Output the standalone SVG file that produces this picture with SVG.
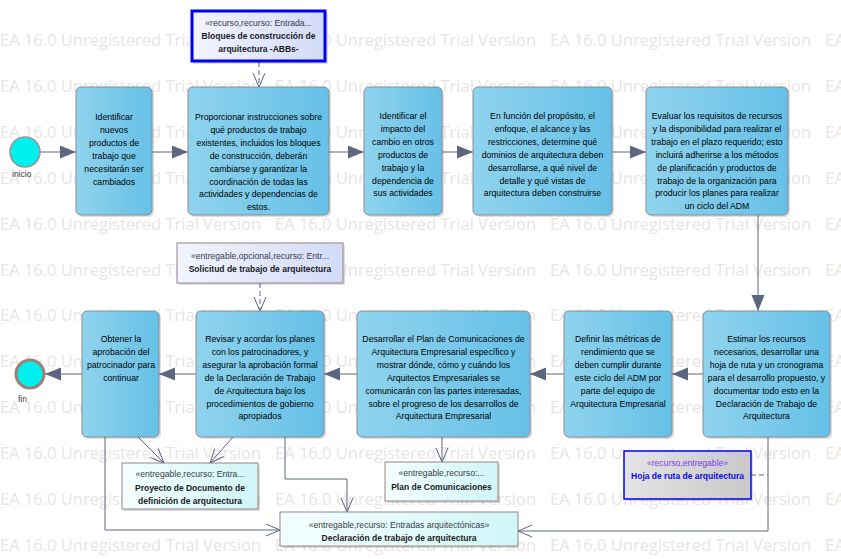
<svg xmlns="http://www.w3.org/2000/svg" width="841" height="559" viewBox="0 0 841 559">
<defs>
<style>
.wm{font-family:"Open Sans","Liberation Sans",sans-serif;font-size:17px;fill:#e8e5e5}
.node rect.b{fill:url(#gNode);stroke:#8a8c98;stroke-width:1}
.sh{fill:#000;opacity:0.13}
.t{font-family:"Liberation Sans",Arial,sans-serif;font-size:8.7px;fill:#000;text-anchor:middle}
.st{font-family:"Liberation Sans",Arial,sans-serif;font-size:8.6px;fill:#3a3a48;text-anchor:middle}
.nm{font-family:"Liberation Sans",Arial,sans-serif;font-size:8.5px;font-weight:bold;fill:#1a1a24;text-anchor:middle}
.lbl{font-family:"Liberation Sans",Arial,sans-serif;font-size:8.5px;fill:#4a4040}
.c{fill:none;stroke:#5c6680;stroke-width:1}
.d{stroke-dasharray:5,3}
.art{stroke:#9a8282;stroke-width:1}
</style>
<linearGradient id="gNode" x1="0" y1="0" x2="1" y2="0">
<stop offset="0" stop-color="#8fd3ee"/><stop offset="1" stop-color="#66c0e6"/>
</linearGradient>
<linearGradient id="gLav" x1="0" y1="0" x2="1" y2="0">
<stop offset="0" stop-color="#f2f4ff"/><stop offset="1" stop-color="#d2dbf7"/>
</linearGradient>
<linearGradient id="gCyan" x1="0" y1="0" x2="1" y2="0">
<stop offset="0" stop-color="#f4ffff"/><stop offset="1" stop-color="#d0f6f8"/>
</linearGradient>
<linearGradient id="gGray" x1="0" y1="0" x2="1" y2="0">
<stop offset="0" stop-color="#e4e4e4"/><stop offset="1" stop-color="#c8c8c8"/>
</linearGradient>
<marker id="af" markerUnits="userSpaceOnUse" markerWidth="17" markerHeight="14" refX="16" refY="6.5" orient="auto">
<path d="M0,0 L16,6.5 L0,13 z" fill="#5c6680"/>
</marker>
<marker id="ao" markerUnits="userSpaceOnUse" markerWidth="16" markerHeight="14" refX="14.5" refY="6.5" orient="auto">
<path d="M0.5,0.5 L14.5,6.5 L0.5,12.5" fill="none" stroke="#5c6680" stroke-width="1"/>
</marker>
</defs>

<rect width="841" height="559" fill="#ffffff"/>

<g id="watermark">
<text class="wm" x="0" y="46" textLength="261" lengthAdjust="spacingAndGlyphs">EA 16.0 Unregistered Trial Version</text>
<text class="wm" x="275" y="46" textLength="261" lengthAdjust="spacingAndGlyphs">EA 16.0 Unregistered Trial Version</text>
<text class="wm" x="550" y="46" textLength="261" lengthAdjust="spacingAndGlyphs">EA 16.0 Unregistered Trial Version</text>
<text class="wm" x="825" y="46">EA</text>
<text class="wm" x="0" y="92" textLength="261" lengthAdjust="spacingAndGlyphs">EA 16.0 Unregistered Trial Version</text>
<text class="wm" x="275" y="92" textLength="261" lengthAdjust="spacingAndGlyphs">EA 16.0 Unregistered Trial Version</text>
<text class="wm" x="550" y="92" textLength="261" lengthAdjust="spacingAndGlyphs">EA 16.0 Unregistered Trial Version</text>
<text class="wm" x="825" y="92">EA</text>
<text class="wm" x="0" y="138" textLength="261" lengthAdjust="spacingAndGlyphs">EA 16.0 Unregistered Trial Version</text>
<text class="wm" x="275" y="138" textLength="261" lengthAdjust="spacingAndGlyphs">EA 16.0 Unregistered Trial Version</text>
<text class="wm" x="550" y="138" textLength="261" lengthAdjust="spacingAndGlyphs">EA 16.0 Unregistered Trial Version</text>
<text class="wm" x="825" y="138">EA</text>
<text class="wm" x="0" y="184" textLength="261" lengthAdjust="spacingAndGlyphs">EA 16.0 Unregistered Trial Version</text>
<text class="wm" x="275" y="184" textLength="261" lengthAdjust="spacingAndGlyphs">EA 16.0 Unregistered Trial Version</text>
<text class="wm" x="550" y="184" textLength="261" lengthAdjust="spacingAndGlyphs">EA 16.0 Unregistered Trial Version</text>
<text class="wm" x="825" y="184">EA</text>
<text class="wm" x="0" y="230" textLength="261" lengthAdjust="spacingAndGlyphs">EA 16.0 Unregistered Trial Version</text>
<text class="wm" x="275" y="230" textLength="261" lengthAdjust="spacingAndGlyphs">EA 16.0 Unregistered Trial Version</text>
<text class="wm" x="550" y="230" textLength="261" lengthAdjust="spacingAndGlyphs">EA 16.0 Unregistered Trial Version</text>
<text class="wm" x="825" y="230">EA</text>
<text class="wm" x="0" y="276" textLength="261" lengthAdjust="spacingAndGlyphs">EA 16.0 Unregistered Trial Version</text>
<text class="wm" x="275" y="276" textLength="261" lengthAdjust="spacingAndGlyphs">EA 16.0 Unregistered Trial Version</text>
<text class="wm" x="550" y="276" textLength="261" lengthAdjust="spacingAndGlyphs">EA 16.0 Unregistered Trial Version</text>
<text class="wm" x="825" y="276">EA</text>
<text class="wm" x="0" y="321" textLength="261" lengthAdjust="spacingAndGlyphs">EA 16.0 Unregistered Trial Version</text>
<text class="wm" x="275" y="321" textLength="261" lengthAdjust="spacingAndGlyphs">EA 16.0 Unregistered Trial Version</text>
<text class="wm" x="550" y="321" textLength="261" lengthAdjust="spacingAndGlyphs">EA 16.0 Unregistered Trial Version</text>
<text class="wm" x="825" y="321">EA</text>
<text class="wm" x="0" y="367" textLength="261" lengthAdjust="spacingAndGlyphs">EA 16.0 Unregistered Trial Version</text>
<text class="wm" x="275" y="367" textLength="261" lengthAdjust="spacingAndGlyphs">EA 16.0 Unregistered Trial Version</text>
<text class="wm" x="550" y="367" textLength="261" lengthAdjust="spacingAndGlyphs">EA 16.0 Unregistered Trial Version</text>
<text class="wm" x="825" y="367">EA</text>
<text class="wm" x="0" y="413" textLength="261" lengthAdjust="spacingAndGlyphs">EA 16.0 Unregistered Trial Version</text>
<text class="wm" x="275" y="413" textLength="261" lengthAdjust="spacingAndGlyphs">EA 16.0 Unregistered Trial Version</text>
<text class="wm" x="550" y="413" textLength="261" lengthAdjust="spacingAndGlyphs">EA 16.0 Unregistered Trial Version</text>
<text class="wm" x="825" y="413">EA</text>
<text class="wm" x="0" y="459" textLength="261" lengthAdjust="spacingAndGlyphs">EA 16.0 Unregistered Trial Version</text>
<text class="wm" x="275" y="459" textLength="261" lengthAdjust="spacingAndGlyphs">EA 16.0 Unregistered Trial Version</text>
<text class="wm" x="550" y="459" textLength="261" lengthAdjust="spacingAndGlyphs">EA 16.0 Unregistered Trial Version</text>
<text class="wm" x="825" y="459">EA</text>
<text class="wm" x="0" y="505" textLength="261" lengthAdjust="spacingAndGlyphs">EA 16.0 Unregistered Trial Version</text>
<text class="wm" x="275" y="505" textLength="261" lengthAdjust="spacingAndGlyphs">EA 16.0 Unregistered Trial Version</text>
<text class="wm" x="550" y="505" textLength="261" lengthAdjust="spacingAndGlyphs">EA 16.0 Unregistered Trial Version</text>
<text class="wm" x="825" y="505">EA</text>
<text class="wm" x="0" y="551" textLength="261" lengthAdjust="spacingAndGlyphs">EA 16.0 Unregistered Trial Version</text>
<text class="wm" x="275" y="551" textLength="261" lengthAdjust="spacingAndGlyphs">EA 16.0 Unregistered Trial Version</text>
<text class="wm" x="550" y="551" textLength="261" lengthAdjust="spacingAndGlyphs">EA 16.0 Unregistered Trial Version</text>
<text class="wm" x="825" y="551">EA</text>
</g>

<g id="connectors">
<path class="c" d="M40,152 H76" marker-end="url(#af)"/>
<path class="c" d="M152,152 H188" marker-end="url(#af)"/>
<path class="c" d="M329,152 H364" marker-end="url(#af)"/>
<path class="c" d="M442,152 H473" marker-end="url(#af)"/>
<path class="c" d="M612,152 H646" marker-end="url(#af)"/>
<path class="c" d="M758,215 V311" marker-end="url(#af)"/>
<path class="c" d="M703,374 H672" marker-end="url(#af)"/>
<path class="c" d="M564,374 H530" marker-end="url(#af)"/>
<path class="c" d="M357,374 H324" marker-end="url(#af)"/>
<path class="c" d="M196,374 H159" marker-end="url(#af)"/>
<path class="c" d="M82,374 H45" marker-end="url(#af)"/>
<path class="c d" d="M259,62 V87" marker-end="url(#ao)"/>
<path class="c d" d="M260,283 V311" marker-end="url(#ao)"/>
<path class="c" d="M138,437 L164,463" marker-end="url(#ao)"/>
<path class="c" d="M233,437 L210,463" marker-end="url(#ao)"/>
<path class="c" d="M442,437 V462" marker-end="url(#ao)"/>
<path class="c" d="M105,437 V530 H280" marker-end="url(#ao)"/>
<path class="c" d="M285,437 V479 H347 V512" marker-end="url(#ao)"/>
<path class="c" d="M768,437 V531 H518" marker-end="url(#ao)"/>
<path class="c d" d="M751,475 H768"/>
</g>

<g id="inicio">
<circle cx="25" cy="152" r="15" fill="#00f0f0" stroke="#a09090" stroke-width="1.5"/>
<text class="lbl" x="12" y="177">inicio</text>
</g>

<g id="fin">
<circle cx="30" cy="374" r="14" fill="#00f0f0" stroke="#9a8078" stroke-width="3"/>
<text class="lbl" x="18" y="402">fin</text>
</g>

<g id="n1" class="node">
<rect class="sh" x="78" y="89" width="76" height="128" rx="5"/>
<rect class="b" x="76" y="87" width="76" height="128" rx="5"/>
<text class="t"><tspan x="114" y="120">Identificar</tspan><tspan x="114" y="132.9">nuevos</tspan><tspan x="114" y="145.8">productos de</tspan><tspan x="114" y="158.7">trabajo que</tspan><tspan x="114" y="171.6">necesitarán ser</tspan><tspan x="114" y="184.5">cambiados</tspan></text>
</g>

<g id="n2" class="node">
<rect class="sh" x="190" y="89" width="141" height="128" rx="5"/>
<rect class="b" x="188" y="87" width="141" height="128" rx="5"/>
<text class="t"><tspan x="258.5" y="120">Proporcionar instrucciones sobre</tspan><tspan x="258.5" y="132.9">qué productos de trabajo</tspan><tspan x="258.5" y="145.8">existentes, incluidos los bloques</tspan><tspan x="258.5" y="158.7">de construcción, deberán</tspan><tspan x="258.5" y="171.6">cambiarse y garantizar la</tspan><tspan x="258.5" y="184.5">coordinación de todas las</tspan><tspan x="258.5" y="197.4">actividades y dependencias de</tspan><tspan x="258.5" y="210.3">estos.</tspan></text>
</g>

<g id="n3" class="node">
<rect class="sh" x="366" y="89" width="78" height="128" rx="5"/>
<rect class="b" x="364" y="87" width="78" height="128" rx="5"/>
<text class="t"><tspan x="403" y="119">Identificar el</tspan><tspan x="403" y="131.9">impacto del</tspan><tspan x="403" y="144.8">cambio en otros</tspan><tspan x="403" y="157.7">productos de</tspan><tspan x="403" y="170.6">trabajo y la</tspan><tspan x="403" y="183.5">dependencia de</tspan><tspan x="403" y="196.4">sus actividades</tspan></text>
</g>

<g id="n4" class="node">
<rect class="sh" x="475" y="89" width="139" height="128" rx="5"/>
<rect class="b" x="473" y="87" width="139" height="128" rx="5"/>
<text class="t"><tspan x="542.5" y="119">En función del propósito, el</tspan><tspan x="542.5" y="131.9">enfoque, el alcance y las</tspan><tspan x="542.5" y="144.8">restricciones, determine qué</tspan><tspan x="542.5" y="157.7">dominios de arquitectura deben</tspan><tspan x="542.5" y="170.6">desarrollarse, a qué nivel de</tspan><tspan x="542.5" y="183.5">detalle y qué vistas de</tspan><tspan x="542.5" y="196.4">arquitectura deben construirse</tspan></text>
</g>

<g id="n5" class="node">
<rect class="sh" x="648" y="89" width="142" height="128" rx="5"/>
<rect class="b" x="646" y="87" width="142" height="128" rx="5"/>
<text class="t"><tspan x="717" y="119">Evaluar los requisitos de recursos</tspan><tspan x="717" y="131.9">y la disponibilidad para realizar el</tspan><tspan x="717" y="144.8">trabajo en el plazo requerido; esto</tspan><tspan x="717" y="157.7">incluirá adherirse a los métodos</tspan><tspan x="717" y="170.6">de planificación y productos de</tspan><tspan x="717" y="183.5">trabajo de la organización para</tspan><tspan x="717" y="196.4">producir los planes para realizar</tspan><tspan x="717" y="209.3">un ciclo del ADM</tspan></text>
</g>

<g id="n6" class="node">
<rect class="sh" x="705" y="313" width="127" height="126" rx="5"/>
<rect class="b" x="703" y="311" width="127" height="126" rx="5"/>
<text class="t"><tspan x="766.5" y="342">Estimar los recursos</tspan><tspan x="766.5" y="354.9">necesarios, desarrollar una</tspan><tspan x="766.5" y="367.8">hoja de ruta y un cronograma</tspan><tspan x="766.5" y="380.7">para el desarrollo propuesto, y</tspan><tspan x="766.5" y="393.6">documentar todo esto en la</tspan><tspan x="766.5" y="406.5">Declaración de Trabajo de</tspan><tspan x="766.5" y="419.4">Arquitectura</tspan></text>
</g>

<g id="n7" class="node">
<rect class="sh" x="566" y="313" width="108" height="126" rx="5"/>
<rect class="b" x="564" y="311" width="108" height="126" rx="5"/>
<text class="t"><tspan x="618" y="342">Definir las métricas de</tspan><tspan x="618" y="354.9">rendimiento que se</tspan><tspan x="618" y="367.8">deben cumplir durante</tspan><tspan x="618" y="380.7">este ciclo del ADM por</tspan><tspan x="618" y="393.6">parte del equipo de</tspan><tspan x="618" y="406.5">Arquitectura Empresarial</tspan></text>
</g>

<g id="n8" class="node">
<rect class="sh" x="359" y="313" width="173" height="126" rx="5"/>
<rect class="b" x="357" y="311" width="173" height="126" rx="5"/>
<text class="t"><tspan x="443.5" y="342">Desarrollar el Plan de Comunicaciones de</tspan><tspan x="443.5" y="354.9">Arquitectura Empresarial específico y</tspan><tspan x="443.5" y="367.8">mostrar dónde, cómo y cuándo los</tspan><tspan x="443.5" y="380.7">Arquitectos Empresariales se</tspan><tspan x="443.5" y="393.6">comunicarán con las partes interesadas,</tspan><tspan x="443.5" y="406.5">sobre el progreso de los desarrollos de</tspan><tspan x="443.5" y="419.4">Arquitectura Empresarial</tspan></text>
</g>

<g id="n9" class="node">
<rect class="sh" x="198" y="313" width="128" height="126" rx="5"/>
<rect class="b" x="196" y="311" width="128" height="126" rx="5"/>
<text class="t"><tspan x="260" y="342">Revisar y acordar los planes</tspan><tspan x="260" y="354.9">con los patrocinadores, y</tspan><tspan x="260" y="367.8">asegurar la aprobación formal</tspan><tspan x="260" y="380.7">de la Declaración de Trabajo</tspan><tspan x="260" y="393.6">de Arquitectura bajo los</tspan><tspan x="260" y="406.5">procedimientos de gobierno</tspan><tspan x="260" y="419.4">apropiados</tspan></text>
</g>

<g id="n10" class="node">
<rect class="sh" x="84" y="313" width="77" height="126" rx="5"/>
<rect class="b" x="82" y="311" width="77" height="126" rx="5"/>
<text class="t"><tspan x="121" y="342">Obtener la</tspan><tspan x="121" y="354.9">aprobación del</tspan><tspan x="121" y="367.8">patrocinador para</tspan><tspan x="121" y="380.7">continuar</tspan></text>
</g>

<g id="a_bloques">
<rect class="sh" x="193" y="12" width="135" height="52"/>
<rect x="192" y="11" width="133" height="50" fill="url(#gLav)" stroke="#0000f0" stroke-width="3"/>
<text class="st" x="258.5" y="26">«recurso,recurso: Entrada...</text>
<text class="nm"><tspan x="258.5" y="39">Bloques de construcción de</tspan><tspan x="258.5" y="52">arquitectura -ABBs-</tspan></text>
</g>

<g id="a_solicitud">
<rect class="sh" x="179" y="245" width="166" height="40"/>
<rect class="art" x="177" y="243" width="166" height="40" fill="url(#gLav)"/>
<text class="st" x="260" y="259">«entregable,opcional,recurso: Entr...</text>
<text class="nm" x="260" y="272">Solicitud de trabajo de arquitectura</text>
</g>

<g id="a_proyecto">
<rect class="sh" x="124" y="465" width="136" height="46"/>
<rect class="art" x="122" y="463" width="136" height="46" fill="url(#gCyan)"/>
<text class="st" x="190" y="477">«entregable,recurso: Entra...</text>
<text class="nm"><tspan x="190" y="491">Proyecto de Documento de</tspan><tspan x="190" y="504">definición de arquitectura</tspan></text>
</g>

<g id="a_plan">
<rect class="sh" x="387" y="464" width="113" height="39"/>
<rect class="art" x="385" y="462" width="113" height="39" fill="url(#gCyan)"/>
<text class="st" x="441.5" y="476">«entregable,recurso:...</text>
<text class="nm" x="441.5" y="490">Plan de Comunicaciones</text>
</g>

<g id="a_declaracion">
<rect class="sh" x="282" y="514" width="236" height="34"/>
<rect class="art" x="280" y="512" width="238" height="34" fill="url(#gCyan)"/>
<text class="st" x="399" y="528">«entregable,recurso: Entradas arquitectónicas»</text>
<text class="nm" x="399" y="541">Declaración de trabajo de arquitectura</text>
</g>

<g id="a_hoja">
<rect class="sh" x="626" y="453" width="127" height="48"/>
<rect x="624" y="451" width="127" height="48" fill="url(#gGray)" stroke="#0000ff" stroke-width="1.5"/>
<text class="st" x="687.5" y="466" style="fill:#7a3cf0">«recurso,entregable»</text>
<text class="nm" x="687.5" y="479" style="fill:#0a0ae8">Hoja de ruta de arquitectura</text>
</g>
</svg>
